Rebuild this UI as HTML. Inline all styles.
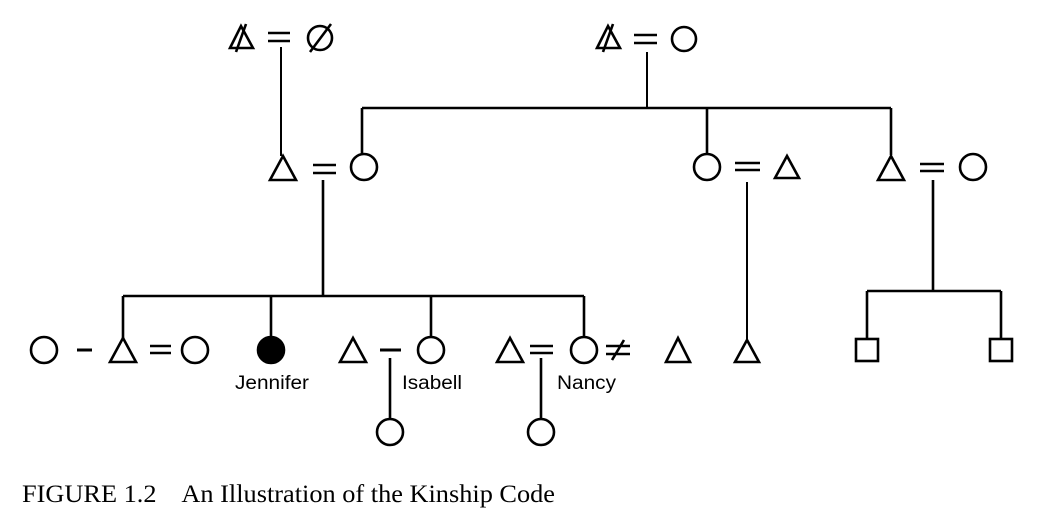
<!DOCTYPE html>
<html><head><style>body{margin:0;background:#fff}svg{display:block}</style></head><body>
<svg width="1040" height="532" viewBox="0 0 1040 532" xmlns="http://www.w3.org/2000/svg">
<g fill="none" stroke="#000" stroke-width="2.6">
<!-- top left -->
<path d="M230 48 L241 26 L253 48 Z"/><line x1="236" y1="52" x2="246" y2="24"/>
<line x1="268" y1="33" x2="290" y2="33"/><line x1="268" y1="41" x2="290" y2="41"/>
<circle cx="320" cy="38" r="12"/><line x1="310" y1="52" x2="331" y2="24"/>
<line x1="281" y1="47" x2="281" y2="156" stroke-width="2"/>
<!-- top right -->
<path d="M597 48 L608 26 L620 48 Z"/><line x1="603" y1="52" x2="613" y2="24"/>
<line x1="634" y1="35" x2="657" y2="35"/><line x1="634" y1="43" x2="657" y2="43"/>
<circle cx="684" cy="39" r="12"/>
<line x1="647" y1="52" x2="647" y2="108" stroke-width="2"/>
<line x1="362" y1="108" x2="891" y2="108"/>
<line x1="362" y1="108" x2="362" y2="155"/>
<line x1="707" y1="108" x2="707" y2="155"/>
<line x1="891" y1="108" x2="891" y2="155"/>
<!-- middle row -->
<path d="M270 180 L283 156 L296 180 Z"/>
<line x1="313" y1="165" x2="336" y2="165"/><line x1="313" y1="173" x2="336" y2="173"/>
<circle cx="364" cy="167" r="13"/>
<line x1="323" y1="180" x2="323" y2="296"/>
<circle cx="707" cy="167" r="13"/>
<line x1="735" y1="163" x2="760" y2="163"/><line x1="735" y1="170" x2="760" y2="170"/>
<path d="M775 178 L787 156 L799 178 Z"/>
<line x1="747" y1="182" x2="747" y2="340" stroke-width="2"/>
<path d="M878 180 L891 156 L904 180 Z"/>
<line x1="920" y1="164" x2="944" y2="164"/><line x1="920" y1="171" x2="944" y2="171"/>
<circle cx="973" cy="167" r="13"/>
<line x1="933" y1="180" x2="933" y2="291"/>
<line x1="867" y1="291" x2="1001" y2="291"/>
<line x1="867" y1="291" x2="867" y2="339"/><line x1="1001" y1="291" x2="1001" y2="339"/>
<rect x="856" y="339" width="22" height="22"/><rect x="990" y="339" width="22" height="22"/>
<path d="M735 362 L747 340 L759 362 Z"/>
<!-- bottom row -->
<line x1="123" y1="296" x2="584" y2="296"/>
<line x1="123" y1="296" x2="123" y2="339"/>
<line x1="271" y1="296" x2="271" y2="337"/>
<line x1="431" y1="296" x2="431" y2="337"/>
<line x1="584" y1="296" x2="584" y2="337"/>
<circle cx="44" cy="350" r="13"/>
<line x1="77" y1="350" x2="92" y2="350" stroke-width="3"/>
<path d="M110 362 L123 338 L136 362 Z"/>
<line x1="150" y1="346" x2="171" y2="346"/><line x1="150" y1="353" x2="171" y2="353"/>
<circle cx="195" cy="350" r="13"/>
<circle cx="271" cy="350" r="13" fill="#000"/>
<path d="M340 362 L353 338 L366 362 Z"/>
<line x1="380" y1="350" x2="401" y2="350" stroke-width="3"/>
<line x1="390" y1="358" x2="390" y2="419"/>
<circle cx="390" cy="432" r="13"/>
<circle cx="431" cy="350" r="13"/>
<path d="M497 362 L510 338 L523 362 Z"/>
<line x1="530" y1="346" x2="553" y2="346"/><line x1="530" y1="353" x2="553" y2="353"/>
<line x1="541" y1="358" x2="541" y2="419"/>
<circle cx="541" cy="432" r="13"/>
<circle cx="584" cy="350" r="13"/>
<line x1="606" y1="346" x2="630" y2="346"/><line x1="606" y1="354" x2="630" y2="354"/><line x1="612" y1="360" x2="624" y2="340"/>
<path d="M666 362 L678 338 L690 362 Z"/>
</g>
<g font-family="Liberation Sans, sans-serif" font-size="19" fill="#000">
<text x="272" y="389" text-anchor="middle" textLength="74" lengthAdjust="spacingAndGlyphs">Jennifer</text>
<text x="402" y="389" textLength="60" lengthAdjust="spacingAndGlyphs">Isabell</text>
<text x="557" y="389" textLength="59" lengthAdjust="spacingAndGlyphs">Nancy</text>
</g>
<text x="22" y="502" font-family="Liberation Serif, serif" font-size="25" fill="#000" xml:space="preserve" textLength="533" lengthAdjust="spacingAndGlyphs">FIGURE 1.2    An Illustration of the Kinship Code</text>
</svg>
</body></html>
